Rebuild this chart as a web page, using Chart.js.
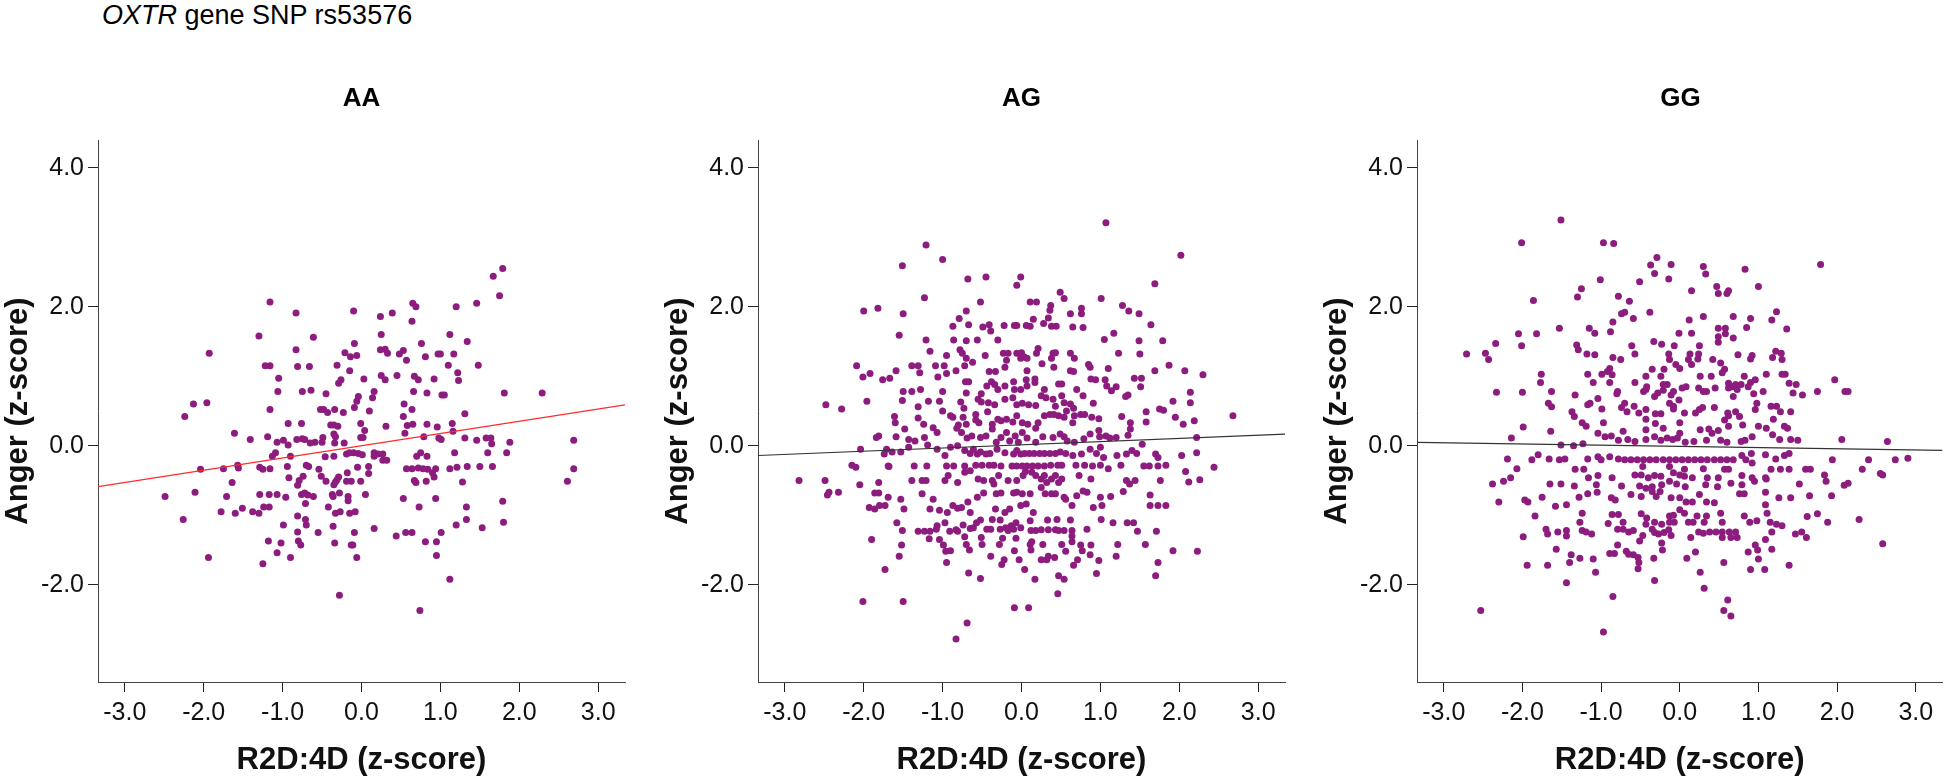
<!DOCTYPE html>
<html>

<head>
	<meta charset="utf-8">
	<title>OXTR rs53576 scatter</title>
	<script src="https://cdn.jsdelivr.net/npm/chart.js@4.4.1/dist/chart.umd.min.js"></script>
	<style>
		body { margin: 0; background: #fff; width: 1946px; height: 784px; position: relative; overflow: hidden; }
		canvas { position: absolute; top: 0; }
		.txt { position: absolute; font-family: 'Liberation Sans', Arial, sans-serif; color: #000; white-space: nowrap; }
		#mainTitle { left: 102px; top: 0px; font-size: 27px; line-height: 31px; }
		.ptitle { top: 82px; width: 527px; text-align: center; font-size: 26px; font-weight: bold; line-height: 30px; }
	</style>
</head>

<body>
	<div id="mainTitle" class="txt"><i>OXTR</i> gene SNP rs53576</div>
	<canvas id="c0" width="640" height="784" style="left:0px"></canvas>
	<canvas id="c1" width="640" height="784" style="left:660px"></canvas>
	<canvas id="c2" width="627" height="784" style="left:1319px"></canvas>

	<script>
		// panel names and axis ticks
		const panelNames = ['AA', 'AG', 'GG'];
		const xTicks = [-3, -2, -1, 0, 1, 2, 3];
		const yTicks = [-2, 0, 2, 4];
		const xRange = [-3.34, 3.34];
		const yRange = [-3.4, 4.4];

		// fit lines: [intercept, slope]
		const fitAA = [0.0, 0.176];
		const fitAG = [0.013, 0.046];
		const fitGG = [-0.009, -0.017];

		// points, [R2D:4D, Anger]
		const aaPoints = [
			[1.79,2.55],[1.67,2.44],[1.75,2.16],[-1.16,2.07],[-0.83,1.91],[-0.10,1.94],[0.24,1.86],[0.39,1.91],[0.65,2.05],[0.69,2.00],
			[0.64,1.79],[1.20,2.00],[1.46,2.05],[-1.30,1.58],[-0.61,1.56],[0.25,1.60],[-0.09,1.47],[0.76,1.47],[1.12,1.60],[1.34,1.50],
			[-1.93,1.33],[-0.83,1.38],[-0.21,1.34],[-0.14,1.28],[-0.06,1.30],[0.24,1.38],[0.30,1.39],[0.33,1.33],[0.48,1.32],[0.53,1.37],
			[0.57,1.23],[0.81,1.28],[0.97,1.32],[1.00,1.32],[1.17,1.32],[-1.22,1.15],[-1.16,1.15],[-0.81,1.14],[-0.66,1.14],[-0.31,1.16],
			[-0.15,1.08],[1.10,1.16],[1.48,1.16],[1.22,1.05],[-1.05,0.97],[-0.26,0.95],[-0.29,0.90],[0.03,0.96],[0.25,1.01],[0.30,0.95],
			[0.45,1.01],[0.67,1.00],[0.72,0.95],[0.92,0.96],[1.23,0.94],[-1.06,0.78],[-0.75,0.78],[-0.64,0.80],[-0.45,0.75],[0.16,0.78],
			[0.14,0.69],[-0.04,0.71],[-0.06,0.64],[0.66,0.78],[0.83,0.76],[1.02,0.73],[1.05,0.73],[1.81,0.76],[2.29,0.76],[-2.13,0.60],
			[-1.96,0.62],[-1.16,0.52],[-0.52,0.52],[-0.48,0.52],[-0.43,0.48],[-0.34,0.52],[-0.23,0.48],[-0.09,0.55],[0.10,0.50],[0.54,0.60],
			[0.64,0.52],[1.31,0.46],[-2.24,0.42],[0.53,0.42],
			[-0.93,0.32],[-0.76,0.32],[-0.39,0.30],[-0.35,0.30],[-0.30,0.28],[-0.01,0.32],[0.31,0.28],[0.58,0.29],[0.65,0.31],[0.83,0.31],
			[0.96,0.27],[1.15,0.32],[1.16,0.21],[0.04,0.22],[0.55,0.18],[-1.61,0.18],[-1.41,0.09],[-1.19,0.13],[-1.07,0.05],[-0.99,0.08],
			[-0.93,0.01],[-0.82,0.09],[-0.75,0.10],[-0.72,0.09],[-0.65,0.04],[-0.59,0.05],[-0.50,0.05],[-0.49,0.12],[-0.35,0.17],[-0.33,0.13],
			[-0.34,0.04],[-0.22,0.04],[-0.01,0.12],[0.02,0.12],[0.79,0.13],[0.98,0.11],[1.01,0.09],[1.31,0.11],[1.46,0.08],[1.58,0.11],
			[1.64,0.11],[1.65,0.03],[1.88,0.05],[2.69,0.08],[-1.09,-0.10],[-1.13,-0.15],[-0.90,-0.15],[-0.46,-0.16],[-0.35,-0.15],[-0.19,-0.12],
			[-0.15,-0.10],[-0.10,-0.10],[-0.04,-0.11],[0.01,-0.13],[0.16,-0.10],[0.16,-0.15],[0.21,-0.12],[0.27,-0.12],[0.27,-0.21],[0.32,-0.21],
			[0.70,-0.15],[0.75,-0.10],[0.83,-0.15],[1.18,-0.10],[1.60,-0.10],[1.84,-0.10],[-2.04,-0.34],[-1.75,-0.33],[-1.57,-0.28],[-1.56,-0.32],
			[-1.29,-0.31],[-1.25,-0.34],[-1.16,-0.33],[-0.94,-0.30],[-0.70,-0.28],[-0.67,-0.30],[-0.54,-0.34],[-0.05,-0.31],[0.09,-0.30],[0.09,-0.40],
			[0.57,-0.33],[0.64,-0.33],[0.72,-0.32],[0.78,-0.33],[0.84,-0.34],[0.94,-0.33],[0.90,-0.39],[0.92,-0.45],[1.12,-0.33],[1.21,-0.31],
			[1.34,-0.30],[1.50,-0.30],[1.66,-0.30],[2.69,-0.33],[-1.64,-0.53],[-0.92,-0.46],[-0.79,-0.50],[-0.81,-0.57],[-0.74,-0.44],[-0.51,-0.44],
			[-0.45,-0.51],[-0.33,-0.52],[-0.31,-0.49],[-0.29,-0.45],[-0.35,-0.56],[-0.18,-0.39],[-0.19,-0.51],[-0.13,-0.51],[-0.01,-0.51],[0.67,-0.50],
			[0.69,-0.53],[0.82,-0.51],[1.28,-0.52],[2.61,-0.51],[-2.49,-0.73],[-2.11,-0.67],[-1.71,-0.73],[-1.29,-0.70],[-1.17,-0.70],[-1.07,-0.70],
			[-0.96,-0.74],[-0.76,-0.70],[-0.72,-0.68],[-0.68,-0.71],[-0.61,-0.73],[-0.71,-0.83],[-0.37,-0.70],[-0.36,-0.73],[-0.28,-0.68],[-0.17,-0.73],
			[-0.17,-0.79],[0.05,-0.70],[0.53,-0.76],[0.94,-0.76],[1.79,-0.80],[0.73,-0.88],[-2.26,-1.06],[-1.78,-0.95],[-1.60,-0.97],[-1.51,-0.90],
			[-1.38,-0.95],[-1.30,-0.97],[-1.24,-0.88],[-1.17,-0.88],[-0.42,-0.88],[-0.33,-0.97],[-0.27,-0.95],[-0.15,-0.97],[-0.08,-0.95],[1.33,-0.88],
			[-0.81,-1.01],[-0.71,-1.06],[-0.70,-1.14],[-0.99,-1.14],[-0.36,-1.16],[0.16,-1.19],[1.20,-1.14],[1.33,-1.06],[1.53,-1.18],[1.80,-1.10],
			[-0.55,-1.25],[-0.81,-1.24],[-0.09,-1.25],[0.44,-1.30],[0.56,-1.25],[0.64,-1.25],[1.01,-1.25],[-1.18,-1.37],[-1.02,-1.40],[-0.80,-1.37],
			[-0.77,-1.43],[-0.34,-1.40],[-0.13,-1.43],[-0.11,-1.43],[0.81,-1.38],[0.95,-1.38],[-1.07,-1.54],[-1.94,-1.61],[-1.25,-1.70],[-0.90,-1.61],
			[-0.06,-1.61],[0.95,-1.58],[1.12,-1.92],[-0.28,-2.15],[0.74,-2.37]
		];

		const agPoints = [
			[1.07,3.21],[-1.21,2.89],[-1.00,2.68],[-1.51,2.59],[2.02,2.74],[-0.68,2.40],[-0.45,2.43],[-0.01,2.43],[-0.06,2.31],[1.69,2.33],
			[-1.23,2.13],[0.49,2.21],[0.54,2.12],[1.01,2.12],[-2.00,1.94],[-1.82,1.98],[-1.50,1.90],[-0.52,2.07],[-0.70,1.94],[0.11,2.07],
			[0.19,2.07],[0.37,2.02],[0.36,1.95],[0.34,1.84],[0.15,1.82],[0.28,1.76],[0.62,1.90],[0.76,1.98],[0.76,1.90],[1.28,2.02],
			[1.36,1.94],[1.49,1.90],[-0.79,1.83],[-0.87,1.72],[-0.67,1.74],[-0.49,1.71],[-0.41,1.74],[-0.39,1.65],[-0.22,1.73],[-0.09,1.73],
			[-0.06,1.73],[0.06,1.73],[0.11,1.72],[0.38,1.72],[0.44,1.72],[0.65,1.71],[0.78,1.70],[1.64,1.74],[-1.55,1.59],[-1.21,1.52],
			[-0.86,1.52],[-0.70,1.51],[-0.56,1.52],[-0.30,1.52],[1.05,1.53],[1.17,1.62],[1.49,1.51],[1.79,1.51],[-1.16,1.36],[-0.95,1.30],
			[-0.78,1.38],[-0.75,1.33],[-0.70,1.26],[-0.62,1.20],[-0.46,1.30],[-0.23,1.33],[-0.17,1.33],[-0.19,1.23],[-0.06,1.33],[0.00,1.34],
			[0.03,1.28],[-0.01,1.26],[0.07,1.26],[0.21,1.40],[0.19,1.33],[0.40,1.33],[0.43,1.34],[0.38,1.26],[0.26,1.18],[0.62,1.33],
			[0.67,1.26],[0.85,1.17],[1.23,1.33],[1.50,1.32],[-2.09,1.15],[-1.39,1.15],[-1.31,1.15],[-1.09,1.15],[-0.98,1.15],[-0.72,1.15],
			[1.87,1.16],
			[-1.92,1.04],[-1.59,1.08],[-1.29,1.05],[-0.95,1.04],[-0.83,1.08],[-0.41,1.07],[-0.33,1.07],[-0.21,1.13],[0.07,1.08],[0.41,1.13],
			[0.62,1.08],[0.66,1.07],[0.87,1.13],[1.10,1.11],[1.69,1.08],[2.07,1.08],[2.30,1.02],
			[-2.01,0.99],[-1.76,0.95],[-1.67,0.97],[-1.06,0.99],[-0.71,0.92],[-0.67,0.92],[-0.38,0.92],[-0.10,0.92],[0.06,0.95],[0.17,0.96],
			[0.17,0.91],[0.47,0.89],[0.88,0.96],[0.94,0.95],[1.06,0.95],[1.43,0.97],[1.52,0.97],[1.08,0.86],[1.14,0.79],
			[-1.50,0.78],[-1.39,0.78],[-1.28,0.81],[-1.00,0.78],[-0.70,0.76],[-0.51,0.75],[-0.44,0.86],[-0.34,0.88],[-0.30,0.81],[-0.21,0.86],
			[-0.09,0.81],[-0.01,0.81],[0.07,0.86],[0.29,0.81],[0.51,0.89],[0.70,0.81],[1.20,0.85],[1.35,0.73],[1.51,0.85],[2.14,0.77],
			[-2.48,0.59],[-2.28,0.53],[-1.96,0.64],[-1.51,0.65],[-1.31,0.56],[-1.18,0.64],[-1.04,0.64],[-0.77,0.63],[-0.73,0.54],[-0.55,0.67],
			[-0.51,0.63],[-0.42,0.62],[-0.34,0.59],[-0.21,0.67],[-0.11,0.69],[-0.06,0.59],[0.01,0.61],[0.09,0.59],[0.18,0.58],[0.25,0.72],
			[0.31,0.69],[0.40,0.67],[0.43,0.57],[0.51,0.72],[0.54,0.62],[0.62,0.60],[0.66,0.54],[0.78,0.72],[0.91,0.61],[1.32,0.71],
			[1.58,0.49],[1.80,0.51],[1.92,0.64],[2.14,0.62],
			[-1.61,0.42],[-1.60,0.33],[-1.48,0.24],[-1.31,0.40],[-1.24,0.31],[-1.12,0.26],[-1.00,0.50],[-0.90,0.43],[-0.87,0.41],[-0.74,0.41],
			[-0.80,0.30],[-0.70,0.31],[-0.58,0.45],[-0.58,0.37],[-0.54,0.33],[-0.43,0.49],[-0.37,0.31],[-0.30,0.38],[-0.26,0.36],[-0.19,0.38],
			[-0.11,0.34],[-0.06,0.43],[0.01,0.33],[0.08,0.31],[0.21,0.33],[0.18,0.25],[0.29,0.43],[0.36,0.45],[0.41,0.45],[0.47,0.43],
			[0.54,0.41],[0.57,0.50],[0.67,0.43],[0.65,0.33],[0.75,0.45],[0.80,0.45],[0.89,0.41],[0.98,0.39],[1.27,0.42],[1.38,0.33],
			[1.58,0.34],[1.75,0.53],[1.95,0.41],[2.05,0.31],[2.19,0.36],[2.68,0.43],
			[-1.84,0.12],[-1.81,0.14],[-1.59,0.13],[-1.43,0.09],[-1.35,0.07],[-1.23,0.12],[-1.19,0.01],[-1.07,0.19],[-0.82,0.25],[-0.76,0.19],
			[-0.69,0.11],[-0.63,0.14],[-0.52,0.12],[-0.45,0.14],[-0.37,0.24],[-0.32,0.05],[-0.26,0.12],[-0.19,0.19],[-0.15,0.07],[-0.08,0.14],
			[-0.04,0.05],[0.01,0.19],[0.07,0.11],[0.18,0.05],[0.27,0.13],[0.40,0.12],[0.49,0.17],[0.54,0.13],[0.58,0.07],[0.67,0.05],
			[0.79,0.10],[0.87,0.17],[0.98,0.22],[0.99,0.13],[1.07,0.14],[1.12,0.11],[1.20,0.12],[1.35,0.15],[1.38,0.24],[1.53,0.02],
			[2.22,0.12],
			[-2.04,-0.05],[-1.74,-0.12],[-1.71,-0.05],[-1.64,-0.09],[-1.53,-0.09],[-1.43,-0.02],[-1.07,-0.05],[-0.97,-0.14],[-0.90,-0.02],[-0.81,0.00],
			[-0.72,-0.07],[-0.65,-0.11],[-0.61,-0.05],[-0.56,-0.12],[-0.52,-0.09],[-0.45,-0.12],[-0.40,-0.11],[-0.31,-0.05],[-0.21,-0.10],[-0.10,-0.12],
			[-0.06,-0.07],[-0.01,-0.12],[0.04,-0.11],[0.10,-0.11],[0.16,-0.11],[0.23,-0.11],[0.29,-0.11],[0.36,-0.11],[0.43,-0.11],[0.49,-0.09],
			[0.56,-0.11],[0.65,-0.14],[0.76,-0.12],[0.87,-0.05],[0.95,-0.11],[1.00,-0.02],[1.04,-0.17],[1.21,-0.14],[1.33,-0.12],[1.40,-0.07],
			[1.46,-0.11],[1.70,-0.12],[1.73,-0.17],[2.03,-0.14],[2.22,-0.10],
			[-2.15,-0.28],[-2.10,-0.31],[-1.69,-0.29],[-1.36,-0.29],[-1.20,-0.29],[-0.95,-0.29],[-0.86,-0.29],[-0.72,-0.29],[-0.58,-0.28],[-0.50,-0.28],
			[-0.41,-0.28],[-0.35,-0.28],[-0.26,-0.29],[-0.12,-0.29],[-0.06,-0.29],[0.01,-0.29],[0.07,-0.29],[0.14,-0.29],[0.21,-0.29],[0.29,-0.29],
			[0.37,-0.28],[0.46,-0.28],[0.51,-0.28],[0.69,-0.28],[0.80,-0.28],[0.90,-0.29],[1.00,-0.28],[1.26,-0.28],[1.55,-0.29],[1.62,-0.29],
			[1.73,-0.29],[1.83,-0.28],[2.44,-0.31],
			[-2.82,-0.50],[-2.49,-0.50],[-2.05,-0.56],[-1.81,-0.53],[-1.68,-0.30],[-1.39,-0.50],[-1.26,-0.50],[-1.21,-0.50],[-0.97,-0.50],[-0.93,-0.43],
			[-0.81,-0.53],[-0.72,-0.38],[-0.65,-0.36],[-0.55,-0.48],[-0.48,-0.50],[-0.37,-0.50],[-0.35,-0.55],[-0.29,-0.43],[-0.17,-0.50],[-0.06,-0.50],
			[0.02,-0.43],[0.05,-0.37],[0.13,-0.38],[0.18,-0.43],[0.25,-0.48],[0.29,-0.43],[0.32,-0.53],[0.38,-0.48],[0.43,-0.43],[0.47,-0.53],
			[0.51,-0.48],[0.73,-0.43],[0.88,-0.48],[1.10,-0.33],[1.33,-0.50],[1.37,-0.55],[1.44,-0.50],[1.76,-0.50],[2.08,-0.37],[2.12,-0.52],
			[2.26,-0.49],
			[-2.46,-0.71],[-2.44,-0.67],[-2.32,-0.67],[-1.86,-0.68],[-1.81,-0.68],[-1.93,-0.89],[-1.86,-0.91],[-1.80,-0.86],[-1.73,-0.86],[-1.69,-0.74],
			[-1.53,-0.77],[-1.49,-0.91],[-1.26,-0.69],[-1.12,-0.77],[-1.16,-0.91],[-1.04,-0.93],[-0.94,-0.96],[-0.87,-0.86],[-0.81,-0.90],[-0.76,-0.89],
			[-0.68,-0.81],[-0.65,-0.96],[-0.56,-0.74],[-0.48,-0.68],[-0.32,-0.69],[-0.26,-0.68],[-0.33,-0.91],[-0.21,-0.96],[-0.15,-0.91],[-0.10,-0.68],
			[-0.06,-0.67],[-0.01,-0.86],[0.01,-0.69],[0.11,-0.69],[0.06,-0.84],[0.15,-0.96],[0.25,-0.60],[0.30,-0.69],[0.38,-0.69],[0.43,-0.69],
			[0.54,-0.74],[0.56,-0.77],[0.64,-0.86],[0.70,-0.72],[0.78,-0.65],[0.83,-0.67],[0.91,-0.89],[1.00,-0.74],[1.02,-0.86],[1.13,-0.73],
			[1.29,-0.66],[1.63,-0.71],[1.63,-0.86],[1.73,-0.86],[1.83,-0.86],
			[-1.58,-1.11],[-1.51,-1.22],[-1.90,-1.35],[-1.31,-1.23],[-1.23,-1.23],[-1.16,-1.23],[-1.08,-1.20],[-1.07,-1.15],[-0.97,-1.11],[-0.91,-1.23],
			[-0.83,-1.21],[-0.81,-1.23],[-0.74,-1.14],[-0.65,-1.19],[-0.61,-1.18],[-0.57,-1.11],[-0.52,-1.07],[-0.44,-1.20],[-0.39,-1.20],[-0.37,-1.06],
			[-0.27,-1.07],[-0.27,-1.20],[-0.20,-1.18],[-0.17,-1.22],[-0.13,-1.15],[-0.10,-1.20],[-0.07,-1.11],[-0.01,-1.18],[0.11,-1.08],[0.12,-1.22],
			[0.18,-1.22],[0.25,-1.21],[0.33,-1.07],[0.34,-1.21],[0.43,-1.21],[0.45,-1.06],[0.47,-1.22],[0.54,-1.22],[0.62,-1.07],[0.64,-1.22],
			[0.83,-1.20],[1.01,-1.06],[1.16,-1.11],[1.34,-1.11],[1.42,-1.11],[1.47,-1.23],[1.71,-1.23],
			[-1.52,-1.43],[-1.55,-1.59],[-1.17,-1.34],[-1.04,-1.35],[-0.99,-1.43],[-0.96,-1.52],[-0.90,-1.51],[-0.95,-1.68],[-0.72,-1.31],[-0.70,-1.42],
			[-0.66,-1.50],[-0.51,-1.32],[-0.50,-1.42],[-0.39,-1.59],[-0.28,-1.42],[-0.24,-1.33],[-0.22,-1.64],[-0.25,-1.71],[-0.09,-1.51],[-0.07,-1.33],
			[-0.03,-1.64],[0.11,-1.42],[0.13,-1.38],[0.12,-1.50],[0.04,-1.78],[0.17,-1.92],[0.27,-1.42],[0.25,-1.64],[0.32,-1.64],[0.34,-1.59],
			[0.42,-1.61],[0.51,-1.42],[0.56,-1.52],[0.64,-1.30],[0.64,-1.38],[0.71,-1.64],[0.66,-1.72],[0.75,-1.43],[0.77,-1.51],[0.87,-1.57],
			[0.88,-1.43],[0.98,-1.65],[0.95,-1.84],[0.47,-1.87],[0.54,-1.92],[0.46,-2.13],[1.20,-1.59],[1.22,-1.42],[1.57,-1.42],[1.73,-1.68],
			[1.70,-1.87],[1.92,-1.51],[2.23,-1.52],[-1.73,-1.78],[-0.67,-1.83],[-0.52,-1.91],[-2.01,-2.24],[-1.50,-2.24],[-0.09,-2.33],[0.09,-2.33],
			[-0.69,-2.55],[-0.83,-2.78]
		];

		const ggPoints = [
			[-1.51,3.25],[-2.01,2.92],[-0.97,2.92],[-0.84,2.91],[-0.29,2.71],[-0.37,2.60],[-0.11,2.61],[0.30,2.58],[0.33,2.47],[-0.32,2.48],
			[-0.14,2.40],[0.83,2.54],[1.79,2.61],[-1.01,2.39],[-0.51,2.36],[-1.25,2.26],[-1.30,2.14],[-1.86,2.09],[-0.78,2.15],[-0.64,2.08],
			[0.15,2.23],[0.47,2.29],[0.62,2.23],[0.60,2.19],[0.49,2.19],[1.00,2.29],[-0.38,1.92],[-0.74,1.90],[-0.70,1.92],[-0.59,1.83],
			[-0.85,1.78],[0.12,1.81],[0.30,1.86],[0.68,1.86],[0.90,1.83],[1.17,1.81],[1.23,1.93],[-1.53,1.69],[-1.15,1.69],[-1.08,1.62],
			[-0.88,1.64],[-0.01,1.62],[0.15,1.62],[0.49,1.69],[0.58,1.69],[0.49,1.57],[0.49,1.49],[0.58,1.61],[0.68,1.55],[0.85,1.70],
			[1.36,1.68],[-2.05,1.61],[-1.82,1.61],[-2.34,1.47],[-2.01,1.44],[-2.71,1.32],[-2.47,1.33],[-2.43,1.24],[-1.31,1.45],[-1.29,1.38],
			[-1.18,1.32],[-1.08,1.31],[-0.61,1.44],[-0.57,1.32],[-0.33,1.50],[-0.23,1.46],[-0.07,1.44],[0.25,1.44],[-0.85,1.27],[-0.75,1.24],
			[-0.14,1.32],[-0.13,1.24],[-0.05,1.17],[0.00,1.11],[0.13,1.32],[0.11,1.24],[0.15,1.17],[0.23,1.25],[0.24,1.32],[0.42,1.24],
			[0.52,1.19],[0.74,1.31],[0.90,1.25],[0.92,1.30],[1.18,1.27],[1.22,1.36],[1.29,1.33],[1.30,1.24],[-0.89,1.11],[-0.35,1.10],
			[-0.20,1.10],[0.57,1.10],
			[-1.76,1.03],[-1.77,0.91],[-1.17,1.03],[-0.99,1.03],[-0.92,1.07],[-0.86,1.02],[-0.89,0.91],[-1.10,0.91],[-0.57,0.91],[-0.43,1.00],
			[-0.42,0.85],[-0.24,1.00],[-0.21,0.88],[-0.16,0.88],[0.08,0.85],[0.26,1.00],[0.40,1.00],[0.54,1.05],[0.62,0.90],[0.71,0.88],
			[0.82,1.00],[0.90,0.91],[0.96,0.95],[1.10,1.03],[1.30,1.03],[1.34,1.03],[1.39,0.90],[1.48,0.88],[1.97,0.95],
			[-2.33,0.77],[-2.00,0.77],[-1.63,0.78],[-1.67,0.61],[-1.63,0.56],[-1.33,0.73],[-1.17,0.59],[-1.14,0.61],[-1.04,0.68],[-0.80,0.75],
			[-0.79,0.78],[-0.70,0.61],[-0.58,0.57],[-0.46,0.78],[-0.43,0.81],[-0.32,0.71],[-0.28,0.76],[-0.21,0.80],[-0.11,0.73],[-0.08,0.78],
			[-0.13,0.61],[-0.01,0.66],[0.03,0.83],[0.24,0.83],[0.30,0.78],[0.34,0.78],[0.45,0.83],[0.62,0.83],[0.67,0.85],[0.73,0.81],
			[0.68,0.71],[0.78,0.88],[0.87,0.85],[0.94,0.75],[0.98,0.61],[1.06,0.78],[1.44,0.76],[1.56,0.73],[1.75,0.78],[2.10,0.78],
			[2.14,0.78],
			[-1.37,0.49],[-1.34,0.42],[-1.24,0.33],[-1.19,0.28],[-0.99,0.53],[-0.97,0.33],[-0.74,0.55],[-0.67,0.49],[-0.52,0.47],[-0.43,0.52],
			[-0.31,0.46],[-0.24,0.46],[-0.08,0.57],[-0.08,0.53],[0.06,0.47],[0.20,0.47],[0.25,0.52],[0.29,0.55],[0.44,0.55],[0.61,0.47],
			[0.62,0.43],[0.71,0.49],[0.76,0.42],[0.96,0.52],[1.16,0.57],[1.23,0.57],[1.28,0.49],[1.41,0.49],[1.19,0.38],[-1.99,0.27],
			[-1.64,0.21],[-2.14,0.11],[-0.43,0.38],[-0.31,0.32],[-0.43,0.23],[-0.21,0.25],[0.00,0.33],[0.00,0.18],[0.26,0.23],[0.37,0.24],
			[0.41,0.18],[0.49,0.22],[0.57,0.37],[0.62,0.28],[0.80,0.30],[1.00,0.28],[1.10,0.25],[1.33,0.28],[1.37,0.25],
			[-1.04,0.18],[-0.95,0.13],[-0.87,0.14],[-0.78,0.08],[-0.72,0.21],[-0.66,0.09],[-0.57,0.06],[-0.43,0.09],[-0.32,0.13],[-0.24,0.08],
			[-0.16,0.11],[-0.09,0.09],[-0.03,0.11],[0.07,0.05],[0.18,0.06],[0.34,0.08],[0.52,0.08],[0.60,0.05],[0.78,0.06],[0.83,0.08],
			[0.92,0.13],[1.18,0.16],[1.27,0.09],[1.41,0.09],[1.50,0.08],[2.06,0.09],[2.64,0.06],[-1.51,0.01],[-1.35,0.00],[-1.23,0.03],
			[-2.19,-0.19],[-1.88,-0.20],[-1.80,-0.13],[-1.66,-0.19],[-1.53,-0.20],[-1.46,-0.19],[-1.17,-0.19],[-1.04,-0.16],[-1.00,-0.20],[-0.89,-0.16],
			[-0.78,-0.19],[-0.70,-0.20],[-0.62,-0.20],[-0.54,-0.20],[-0.46,-0.20],[-0.38,-0.20],[-0.30,-0.20],[-0.21,-0.20],[-0.13,-0.20],[-0.05,-0.20],
			[0.03,-0.20],[0.11,-0.20],[0.19,-0.20],[0.27,-0.20],[0.35,-0.20],[0.44,-0.20],[0.52,-0.20],[0.60,-0.20],[0.68,-0.20],[0.79,-0.14],
			[0.84,-0.20],[0.92,-0.25],[0.91,-0.11],[1.09,-0.13],[1.22,-0.19],[1.33,-0.14],[1.39,-0.11],[1.94,-0.20],[2.40,-0.20],[2.74,-0.20],
			[2.90,-0.18],[-0.47,-0.30],[-0.13,-0.30],[0.06,-0.34],[0.30,-0.33],[0.57,-0.34],
			[-2.07,-0.33],[-1.33,-0.34],[-1.22,-0.34],[-1.16,-0.46],[-1.04,-0.43],[-0.86,-0.46],[-0.57,-0.42],[-0.49,-0.42],[-0.40,-0.46],[-0.32,-0.43],
			[-0.24,-0.44],[-0.08,-0.39],[0.00,-0.42],[0.06,-0.44],[0.16,-0.46],[0.35,-0.46],[0.49,-0.46],[0.62,-0.34],[0.79,-0.43],[0.92,-0.46],
			[1.09,-0.46],[1.16,-0.34],[1.28,-0.34],[1.39,-0.34],[1.60,-0.34],[1.66,-0.34],[1.84,-0.42],[2.32,-0.34],[2.55,-0.40],
			[-2.38,-0.55],[-2.24,-0.51],[-2.15,-0.46],[-1.65,-0.55],[-1.51,-0.55],[-1.34,-0.58],[-1.06,-0.56],[-0.74,-0.58],[-0.51,-0.58],[-0.43,-0.61],
			[-0.35,-0.59],[-0.23,-0.56],[-0.13,-0.51],[-0.04,-0.55],[0.07,-0.59],[0.33,-0.56],[0.48,-0.59],[0.65,-0.54],[0.79,-0.56],[0.95,-0.51],
			[1.10,-0.48],[1.52,-0.55],[1.86,-0.51],[2.09,-0.57],[2.14,-0.54],[2.58,-0.42],
			[-2.30,-0.81],[-1.97,-0.78],[-1.93,-0.81],[-1.75,-0.74],[-1.58,-0.87],[-1.44,-0.85],[-1.28,-0.74],[-1.17,-0.69],[-1.05,-0.67],[-0.87,-0.75],
			[-0.82,-0.78],[-0.62,-0.70],[-0.49,-0.73],[-0.35,-0.66],[-0.30,-0.73],[-0.25,-0.66],[-0.11,-0.75],[0.00,-0.75],[0.08,-0.81],[0.16,-0.81],
			[0.25,-0.70],[0.34,-0.81],[0.44,-0.82],[0.76,-0.69],[0.82,-0.69],[1.09,-0.67],[1.09,-0.85],[1.26,-0.75],[1.41,-0.75],[1.65,-0.72],
			[1.93,-0.72],[-1.84,-1.01],[-1.24,-0.97],[-0.86,-0.99],[-0.78,-0.99],[-0.49,-0.98],[-0.42,-1.04],[-0.13,-1.01],[-0.08,-1.00],[0.00,-0.92],
			[0.06,-0.97],[0.22,-1.01],[0.34,-1.01],[0.52,-0.97],[0.82,-1.01],[1.11,-0.97],[1.62,-1.02],[1.75,-0.98],[2.28,-1.06],
			[-1.27,-1.10],[-0.91,-1.12],[-0.72,-1.10],[-0.43,-1.13],[-0.32,-1.10],[-0.23,-1.13],[-0.13,-1.10],[-0.07,-1.10],[0.11,-1.10],[0.17,-1.10],
			[0.31,-1.10],[0.54,-1.10],[0.89,-1.10],[0.98,-1.08],[1.15,-1.10],[1.23,-1.13],[1.30,-1.15],[1.88,-1.10],
			[-1.99,-1.31],[-1.70,-1.20],[-1.68,-1.27],[-1.55,-1.24],[-1.44,-1.22],[-1.44,-1.30],[-1.24,-1.22],[-1.19,-1.24],[-1.12,-1.27],[-0.79,-1.20],
			[-0.72,-1.20],[-0.65,-1.24],[-0.59,-1.22],[-0.47,-1.29],[-0.35,-1.20],[-0.32,-1.25],[-0.27,-1.27],[-0.20,-1.25],[-0.14,-1.21],[-0.11,-1.29],
			[-0.23,-1.40],[-0.22,-1.50],[0.14,-1.32],[0.24,-1.24],[0.30,-1.26],[0.38,-1.24],[0.46,-1.24],[0.54,-1.24],[0.63,-1.24],[0.54,-1.32],
			[0.65,-1.32],[0.71,-1.24],[0.73,-1.32],[1.17,-1.24],[1.47,-1.27],[1.55,-1.24],[1.61,-1.32],[1.09,-1.35],[0.96,-1.43],[0.99,-1.50],
			[1.17,-1.49],[0.87,-1.53],[1.00,-1.63],[0.90,-1.78],[1.08,-1.78],[1.39,-1.72],[2.58,-1.41],[-0.51,-1.37],[-0.79,-1.43],[-0.89,-1.55],
			[-0.83,-1.55],[-0.68,-1.52],[-0.65,-1.56],[-0.59,-1.57],[-0.53,-1.61],[-0.52,-1.68],[-0.53,-1.77],[-0.33,-1.62],[0.20,-1.53],[0.09,-1.62],
			[0.56,-1.68],[-1.57,-1.49],[-1.38,-1.57],[-1.40,-1.68],[-1.27,-1.62],[-1.10,-1.63],[-1.94,-1.72],[-1.68,-1.72],[-1.07,-1.82],[-1.44,-1.97],
			[-0.32,-1.94],[0.26,-1.82],[0.31,-2.05],[-0.85,-2.17],[-2.53,-2.37],[0.61,-2.22],[0.56,-2.37],[0.65,-2.45],[-0.97,-2.68]
		];

		const FONT = "'Liberation Sans', Arial, sans-serif";
		const DOT = '#8c1d7e';

		function fitLine(fit) {
			return xRange.map(x => ({ x: x, y: fit[0] + fit[1] * x }));
		}

		function makePanel(id, name, points, fit, lineColor, rightPad) {
			const canvas = document.getElementById(id);
			const left = canvas.offsetLeft;

			// panel heading above the plot area
			const t = document.createElement('div');
			t.className = 'txt ptitle';
			t.style.left = (left + 98) + 'px';
			t.textContent = name;
			document.body.appendChild(t);

			return new Chart(canvas, {
				type: 'scatter',
				data: {
					datasets: [
						{
							type: 'line',
							data: fitLine(fit),
							borderColor: lineColor,
							borderWidth: 1.2,
							pointRadius: 0,
							showLine: true,
							fill: false,
							order: 0
						},
						{
							type: 'scatter',
							data: points.map(p => ({ x: p[0], y: p[1] })),
							backgroundColor: DOT,
							borderWidth: 0,
							pointRadius: 3.5,
							pointHoverRadius: 3.5,
							order: 1
						}
					]
				},
				options: {
					responsive: false,
					animation: false,
					devicePixelRatio: 1,
					layout: { padding: { top: 140, right: rightPad, left: 0, bottom: 0 } },
					plugins: { legend: { display: false }, tooltip: { enabled: false } },
					scales: {
						x: {
							type: 'linear',
							min: xRange[0],
							max: xRange[1],
							afterBuildTicks: s => { s.ticks = xTicks.map(v => ({ value: v })); },
							afterFit: s => { s.height = 102; },
							grid: { drawOnChartArea: false, drawTicks: true, tickLength: 10, color: '#222', lineWidth: 1 },
							border: { display: true, color: '#444', width: 1 },
							ticks: {
								autoSkip: false, maxRotation: 0, color: '#111', padding: 6,
								font: { family: FONT, size: 25 },
								callback: v => Number(v).toFixed(1)
							},
							title: {
								display: true, text: 'R2D:4D (z-score)', color: '#111',
								font: { family: FONT, size: 31, weight: 'bold' },
								padding: { top: 0, bottom: 5 }
							}
						},
						y: {
							type: 'linear',
							min: yRange[0],
							max: yRange[1],
							afterBuildTicks: s => { s.ticks = yTicks.map(v => ({ value: v })); },
							afterFit: s => { s.width = 98; },
							grid: { drawOnChartArea: false, drawTicks: true, tickLength: 10, color: '#222', lineWidth: 1 },
							border: { display: true, color: '#444', width: 1 },
							ticks: {
								autoSkip: false, color: '#111', padding: 4,
								font: { family: FONT, size: 25 },
								callback: v => Number(v).toFixed(1)
							},
							title: {
								display: true, text: 'Anger (z-score)', color: '#111',
								font: { family: FONT, size: 31, weight: 'bold' },
								padding: { top: 0, bottom: 0 }
							}
						}
					}
				}
			});
		}

		makePanel('c0', panelNames[0], aaPoints, fitAA, '#ff2a2a', 15);
		makePanel('c1', panelNames[1], agPoints, fitAG, '#333', 15);
		makePanel('c2', panelNames[2], ggPoints, fitGG, '#333', 2);
	</script>
</body>

</html>
